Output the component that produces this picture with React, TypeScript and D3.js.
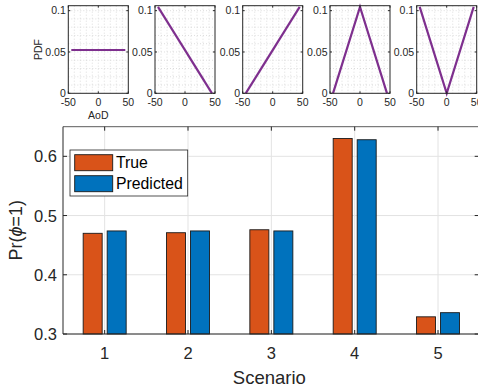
import React from "react";
import * as d3 from "d3";

const scenarios = [1, 2, 3, 4, 5];
const trueVals = [0.470, 0.471, 0.476, 0.630, 0.329];
const predVals = [0.474, 0.474, 0.474, 0.628, 0.336];
const seriesNames = ["True", "Predicted"];
const seriesColors = ["#D95319", "#0072BD"];
const yTicks = [0.3, 0.4, 0.5, 0.6];

// PDF subplots: [AoD, PDF] points
const pdfShapes: [number, number][][] = [
  [[-45, 0.0524], [45, 0.0524]],
  [[-45, 0.1045], [45, 0]],
  [[-45, 0], [45, 0.1045]],
  [[-45, 0], [0, 0.1045], [45, 0]],
  [[-45, 0.1045], [0, 0], [45, 0.1045]],
];
const pdfXTicks = [-50, 0, 50];
const pdfYTicks = [0, 0.05, 0.1];

const FONT = "'Liberation Sans', Arial, Helvetica, sans-serif";
const AX = "#262626";

function PdfPlot({ left, data, first }: { left: number; data: [number, number][]; first: boolean }) {
  const w = 60, top = 5.7, bottom = 93.3;
  const x = d3.scaleLinear().domain([-50, 50]).range([left, left + w]);
  const y = d3.scaleLinear().domain([0, 0.106]).range([bottom, top]);
  const line = d3.line<[number, number]>().x(d => x(d[0])).y(d => y(d[1]));
  const minorX = d3.range(-40, 50, 10);
  const minorY = d3.range(0.01, 0.106, 0.01);
  return (
    <g>
      <rect x={left} y={top} width={w} height={bottom - top} fill="#fff" />
      {minorX.map(v => (
        <line key={"gx" + v} x1={x(v)} x2={x(v)} y1={top} y2={bottom} stroke="#c8c8c8" strokeWidth={0.6} strokeDasharray="1 2" />
      ))}
      {minorY.map((v, i) => (
        <line key={"gy" + i} x1={left} x2={left + w} y1={y(v)} y2={y(v)} stroke="#c8c8c8" strokeWidth={0.6} strokeDasharray="1 2" />
      ))}
      <path d={line(data) || ""} fill="none" stroke="#7E2F8E" strokeWidth={2.2} />
      <rect x={left} y={top} width={w} height={bottom - top} fill="none" stroke={AX} strokeWidth={1} />
      {pdfXTicks.map(v => (
        <g key={"xt" + v}>
          <line x1={x(v)} x2={x(v)} y1={bottom} y2={bottom - 2} stroke={AX} />
          <line x1={x(v)} x2={x(v)} y1={top} y2={top + 2} stroke={AX} />
          <text x={x(v)} y={106} fontSize={10.5} textAnchor="middle" fill={AX} fontFamily={FONT}>{v}</text>
        </g>
      ))}
      {pdfYTicks.map(v => (
        <g key={"yt" + v}>
          <line x1={left} x2={left + 2} y1={y(v)} y2={y(v)} stroke={AX} />
          <line x1={left + w} x2={left + w - 2} y1={y(v)} y2={y(v)} stroke={AX} />
          <text x={left - 2.5} y={y(v) + 3.8} fontSize={10.5} textAnchor="end" fill={AX} fontFamily={FONT}>{v}</text>
        </g>
      ))}
      {first && (
        <>
          <text x={left + w / 2} y={119} fontSize={10.5} textAnchor="middle" fill={AX} fontFamily={FONT}>AoD</text>
          <text transform={`translate(${left - 26},${(top + bottom) / 2}) rotate(-90)`} fontSize={10.5} textAnchor="middle" fill={AX} fontFamily={FONT}>PDF</text>
        </>
      )}
    </g>
  );
}

export default function App() {
  const W = 478, H = 387;
  const mL = 63, mR = 479.7, mT = 126.7, mB = 334;
  const x = d3.scaleLinear().domain([0.5, 5.5]).range([mL, mR]);
  const y = d3.scaleLinear().domain([0.3, 0.65]).range([mB, mT]);
  const barW = 19, off = 12;
  const pdfLefts = [68.3, 155, 242.7, 330, 416.7];
  const series = [trueVals, predVals];
  return (
    <svg width={W} height={H} style={{ position: "absolute", left: 0, top: 0, background: "#fff" }}>
      <rect width={W} height={H} fill="#fff" />
      {pdfShapes.map((d, i) => (
        <PdfPlot key={i} left={pdfLefts[i]} data={d} first={i === 0} />
      ))}
      {/* main grid */}
      {scenarios.map(s => (
        <line key={"gx" + s} x1={x(s)} x2={x(s)} y1={mT} y2={mB} stroke="#e3e3e3" strokeWidth={1} />
      ))}
      {yTicks.map(v => (
        <line key={"gy" + v} x1={mL} x2={mR} y1={y(v)} y2={y(v)} stroke="#e3e3e3" strokeWidth={1} />
      ))}
      {/* bars */}
      {series.map((vals, si) =>
        vals.map((v, i) => {
          const cx = x(scenarios[i]) + (si === 0 ? -off : off);
          return (
            <rect key={si + "-" + i} x={cx - barW / 2} y={y(v)} width={barW} height={y(0.3) - y(v)}
              fill={seriesColors[si]} stroke="#1a1a1a" strokeWidth={0.9} />
          );
        })
      )}
      {/* axes box */}
      <line x1={mL} x2={mR} y1={mT} y2={mT} stroke={AX} strokeWidth={1} opacity={0.75} />
      <line x1={mL} x2={mR} y1={mB} y2={mB} stroke={AX} strokeWidth={1} />
      <line x1={mL} x2={mL} y1={mT} y2={mB} stroke={AX} strokeWidth={1} />
      <line x1={mR - 1} x2={mR - 1} y1={mT} y2={mB} stroke={AX} strokeWidth={1} />
      {scenarios.map(s => (
        <g key={"xt" + s}>
          <line x1={x(s)} x2={x(s)} y1={mB} y2={mB - 4} stroke={AX} />
          <line x1={x(s)} x2={x(s)} y1={mT} y2={mT + 4} stroke={AX} />
          <text x={x(s)} y={359} fontSize={16.5} textAnchor="middle" fill={AX} fontFamily={FONT}>{s}</text>
        </g>
      ))}
      {yTicks.map(v => (
        <g key={"yt" + v}>
          <line x1={mL} x2={mL + 4} y1={y(v)} y2={y(v)} stroke={AX} />
          <line x1={mR - 1} x2={mR - 5} y1={y(v)} y2={y(v)} stroke={AX} />
          <text x={mL - 6} y={y(v) + 6} fontSize={16.5} textAnchor="end" fill={AX} fontFamily={FONT}>{v.toFixed(1)}</text>
        </g>
      ))}
      <text x={(mL + mR) / 2 - 2} y={384} fontSize={18.5} textAnchor="middle" fill={AX} fontFamily={FONT}>Scenario</text>
      <text transform={`translate(22,${(mT + mB) / 2}) rotate(-90)`} fontSize={18} textAnchor="middle" fill={AX} fontFamily={FONT}>
        Pr(<tspan fontStyle="italic">ϕ</tspan>=1)
      </text>
      {/* legend */}
      <rect x={70} y={150} width={117.7} height={46} fill="#fff" stroke={AX} strokeWidth={0.8} />
      {seriesNames.map((n, i) => (
        <g key={n}>
          <rect x={74.7} y={154.7 + i * 21} width={38} height={16} fill={seriesColors[i]} stroke="#1a1a1a" strokeWidth={0.9} />
          <text x={116} y={168.3 + i * 21} fontSize={15.8} fill="#000" fontFamily={FONT}>{n}</text>
        </g>
      ))}
    </svg>
  );
}
